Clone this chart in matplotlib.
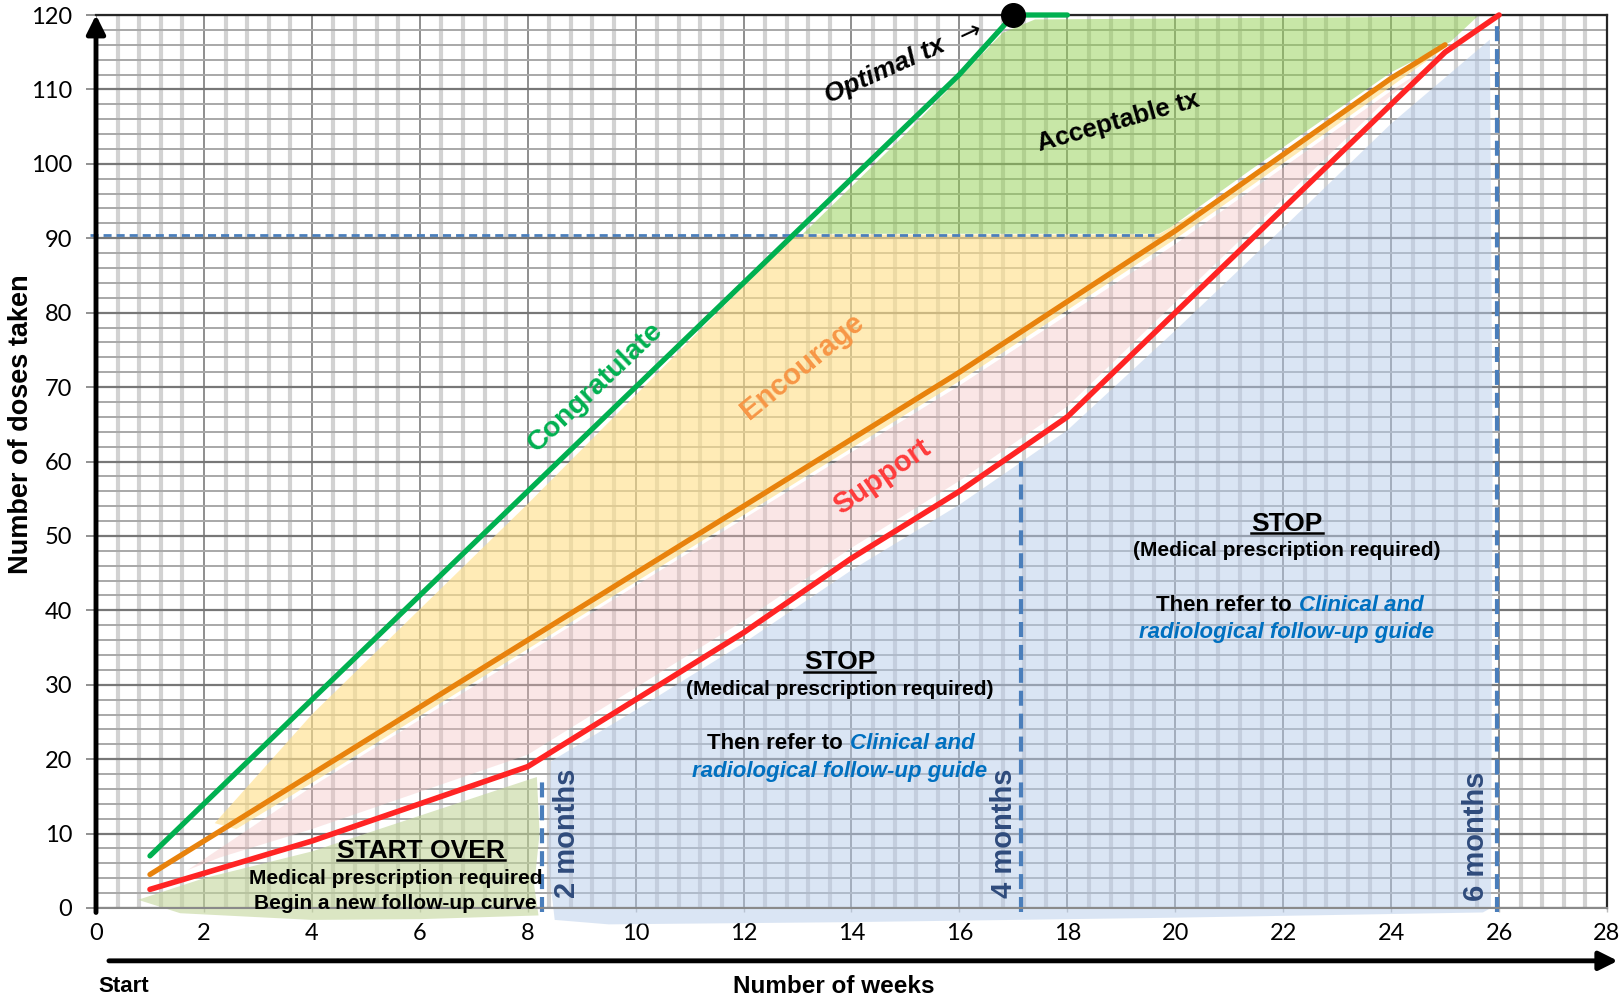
import numpy as np
import matplotlib
matplotlib.use('Agg')
import matplotlib.pyplot as plt
from matplotlib import font_manager
from matplotlib.ticker import MultipleLocator

# --- data ---
weeks_optimal = [1, 2, 4, 6, 8, 10, 12, 14, 16, 17, 18]
doses_optimal = [7, 14, 28, 42, 56, 70, 84, 98, 112, 120, 120]

weeks_encourage = [1, 4, 8, 12, 16, 20, 24, 25]
doses_encourage = [4.5, 18, 36, 54, 72, 91, 111.5, 116]

weeks_support = [1, 4, 8, 12, 14, 16, 18, 20, 22, 24, 25, 26]
doses_support = [2.5, 9, 19, 37, 47, 56, 66, 80, 94, 108, 115, 120]

optimal_point = (17, 120)
threshold_dose = 90.5          # horizontal dashed line
threshold_end_week = 19.6
month_weeks = [8.26, 17.15, 25.97]
month_tops = [17.6, 61, 120]
month_labels = ['2 months', '4 months', '6 months']
month_label_pos = [(8.72, 10.1), (16.83, 10.1), (25.58, 9.7)]

# shaded zones (hand drawn blobs), as (week, dose) outlines
zone_acceptable = [(13.1, 90.6), (15, 104), (16.8, 117.6), (17.4, 119.4), (25.6, 119.8),
                   (25.1, 116.4), (24, 112.3), (21.4, 99.2), (19.9, 91.4), (19.7, 90.6)]
zone_encourage = [(2.2, 11.4), (4, 26.0), (8, 54.3), (12.95, 90.5), (19.7, 90.5), (21.4, 98.1),
                  (24, 111.3), (25, 115.6), (24, 110.4), (21.4, 97.0), (20, 89.9), (16, 70.8),
                  (12, 52.8), (8, 34.8), (4, 16.8), (2.6, 10.6)]
zone_support = [(1.7, 5.1), (4, 16.3), (8, 34.3), (12, 52.3), (16, 70.2), (20, 89.2),
                (24, 109.8), (25, 114.6), (24, 109.2), (22, 95.3), (20, 81.4), (18, 67.4),
                (16, 57.4), (14, 48.4), (12, 38.6), (8, 20.6), (4, 10.6), (2.3, 6.8)]
zone_startover = [(0.78, 1.1), (2, 4.0), (4, 7.6), (6, 12.4), (8, 17.2), (8.17, 17.6),
                  (8.22, 10), (8.12, 3), (8.2, -1.0), (6, -1.5), (4, -1.6), (1.56, -0.7)]
zone_stop = [(8.43, 19.7), (10, 26.6), (12, 35.6), (14, 45.4), (16, 54.2), (18, 64.2),
             (20, 77.6), (22, 91.4), (24, 105.4), (25.83, 116.7), (25.88, 60),
             (25.85, 0), (25.7, -0.6), (20, -1.3), (14, -1.9), (9.5, -2.2), (8.5, -1.6),
             (8.38, 6)]

x_ticks = list(range(0, 29, 2))
y_ticks = list(range(0, 121, 10))

# --- fonts ---
installed = {f.name for f in font_manager.fontManager.ttflist}
plt.rcParams['font.family'] = ['Lato', 'DejaVu Sans']
ARIAL = ['Liberation Sans', 'DejaVu Sans']
if 'Liberation Sans Narrow' in installed:
    ylab_family, ylab_size = ['Liberation Sans Narrow', 'DejaVu Sans'], 23
else:
    ylab_family, ylab_size = ARIAL, 19.5

fig = plt.figure(figsize=(16.23, 9.99), dpi=100)
ax = fig.add_axes([96 / 1623, 1 - 908 / 999, 1511 / 1623, 893 / 999])
ax.set_xlim(0, 28)
ax.set_ylim(0, 120)

# grid
ax.set_axisbelow(True)
ax.set_xticks(x_ticks)
ax.set_yticks(y_ticks)
ax.xaxis.set_minor_locator(MultipleLocator(0.4))
ax.yaxis.set_minor_locator(MultipleLocator(2))
ax.grid(which='minor', axis='x', color='#D2D2D2', lw=3.0)
ax.grid(which='minor', axis='y', color='#A8A8A8', lw=1.4)
ax.grid(which='major', axis='x', color='#7C7C7C', lw=1.2)
ax.grid(which='major', axis='y', color='#777777', lw=1.6)
ax.tick_params(which='minor', length=0)
ax.tick_params(axis='y', which='major', length=7, width=1.2, color='#7F7F7F',
               labelsize=17, pad=10)
ax.tick_params(axis='x', which='major', length=3, width=1.0, color='#BBBBBB',
               labelsize=17, pad=8)

for s in ['top', 'right']:
    ax.spines[s].set_color('#262626')
    ax.spines[s].set_linewidth(1.6)
ax.spines['bottom'].set_color('#8A8A8A')
ax.spines['bottom'].set_linewidth(1.5)
ax.spines['left'].set_visible(False)

# zones
zones = [(zone_stop, '#B7CCEA', 0.5), (zone_startover, '#C3D69B', 0.6),
         (zone_support, '#F2BFBF', 0.38), (zone_encourage, '#FFE08A', 0.62),
         (zone_acceptable, '#92D050', 0.5)]
for pts, col, a in zones:
    ax.fill([p[0] for p in pts], [p[1] for p in pts], color=col, alpha=a, lw=0,
            zorder=1, clip_on=False)

# dashed reference lines
dash_col = '#4A7EBB'
ax.plot([-0.12, threshold_end_week], [threshold_dose, threshold_dose], color=dash_col,
        lw=2.0, linestyle=(0, (2.9, 1.8)), clip_on=False, zorder=2)
for wk, top in zip(month_weeks, month_tops):
    ax.plot([wk, wk], [-0.5, top], color=dash_col, lw=3.0, linestyle=(0, (3.6, 1.9)),
            clip_on=False, zorder=2)

# curves
ax.plot(weeks_optimal, doses_optimal, color='#00B050', lw=3.8, solid_capstyle='round',
        clip_on=False, zorder=4)
ax.plot(weeks_encourage, doses_encourage, color='#E8820C', lw=3.8, solid_capstyle='round',
        zorder=4)
ax.plot(weeks_support, doses_support, color='#FF2424', lw=4.0, solid_capstyle='round',
        clip_on=False, zorder=4)
ax.plot(*optimal_point, 'o', color='black', ms=17, clip_on=False, zorder=6)

# axis arrows
ax.annotate('', xy=(0, 120), xytext=(0, -0.6), annotation_clip=False,
            arrowprops=dict(arrowstyle='-|>', lw=3.5, color='black', mutation_scale=28,
                            shrinkA=0, shrinkB=0), zorder=7)
ax.annotate('', xy=(28.2, -7.1), xytext=(0.24, -7.1), annotation_clip=False,
            arrowprops=dict(arrowstyle='-|>', lw=3.5, color='black', mutation_scale=28,
                            shrinkA=0, shrinkB=0))

# axis labels
ax.text(-1.39, 65, 'Number of doses taken', rotation=90, ha='center', va='center',
        fontsize=ylab_size, fontweight='bold', family=ylab_family, clip_on=False)
ax.text(13.68, -10.5, 'Number of weeks', ha='center', va='center', fontsize=17.5,
        fontweight='bold', family=ARIAL, clip_on=False)
ax.text(0.04, -10.5, 'Start', ha='left', va='center', fontsize=16, fontweight='bold',
        family=ARIAL, clip_on=False)

# zone labels
ax.text(9.25, 70, 'Congratulate', rotation=43.5, ha='center', va='center',
        rotation_mode='anchor', fontsize=20.5, fontweight='bold', color='#00B050',
        family=ARIAL, zorder=5)
ax.text(13.09, 72.8, 'Encourage', rotation=39.4, ha='center', va='center',
        rotation_mode='anchor', fontsize=21, fontweight='bold', color='#F79646',
        family=ARIAL, zorder=5)
ax.text(14.56, 58.0, 'Support', rotation=34.6, ha='center', va='center',
        rotation_mode='anchor', fontsize=21, fontweight='bold', color='#FF3B3B',
        family=ARIAL, zorder=5)
ax.text(14.62, 112.5, 'Optimal tx', rotation=24.3, ha='center', va='center',
        rotation_mode='anchor', fontsize=19, fontweight='bold', style='italic',
        family=ARIAL, zorder=5)
ax.text(16.2, 117.6, '\u2192', rotation=25, ha='center', va='center',
        rotation_mode='anchor', fontsize=19, family=['DejaVu Sans'], zorder=5)
ax.text(18.94, 105.6, 'Acceptable tx', rotation=15.7, ha='center', va='center',
        rotation_mode='anchor', fontsize=18.5, fontweight='bold', family=ARIAL, zorder=5)

for (wk, dose), lab in zip(month_label_pos, month_labels):
    ax.text(wk, dose, lab, rotation=90, ha='center', va='center', fontsize=21,
            fontweight='bold', color='#2F4B7C', family=ARIAL, zorder=5)

# instruction blocks
underlined = []
underlined.append(ax.text(6.03, 7.66, 'START OVER', ha='center', va='center', fontsize=19,
                          fontweight='bold', family=ARIAL, zorder=5))
ax.text(5.55, 3.9, 'Medical prescription required', ha='center', va='center',
        fontsize=15, fontweight='bold', family=ARIAL, zorder=5)
ax.text(5.55, 0.56, 'Begin a new follow-up curve', ha='center', va='center',
        fontsize=15, fontweight='bold', family=ARIAL, zorder=5)

stop_blocks = [(13.78, 33.0, 13.91), (22.07, 51.6, 22.22)]
for cx, cy, split in stop_blocks:
    underlined.append(ax.text(cx, cy, 'STOP', ha='center', va='center', fontsize=19,
                              fontweight='bold', family=ARIAL, zorder=5))
    ax.text(cx, cy - 3.6, '(Medical prescription required)', ha='center', va='center',
            fontsize=15, fontweight='bold', family=ARIAL, zorder=5)
    ax.text(split - 0.07, cy - 10.9, 'Then refer to', ha='right', va='center',
            fontsize=16, fontweight='bold', family=ARIAL, zorder=5)
    ax.text(split + 0.07, cy - 10.9, 'Clinical and', ha='left', va='center',
            fontsize=16, fontweight='bold', style='italic', color='#0070C0',
            family=ARIAL, zorder=5)
    ax.text(cx, cy - 14.6, 'radiological follow-up guide', ha='center', va='center',
            fontsize=16, fontweight='bold', style='italic', color='#0070C0',
            family=ARIAL, zorder=5)

fig.canvas.draw()
inv = ax.transData.inverted()
for t in underlined:
    bb = t.get_window_extent().transformed(inv)
    yline = bb.y0 + 0.35
    ax.plot([bb.x0, bb.x1], [yline, yline], color='black', lw=1.8, zorder=5)

fig.savefig('out.png', dpi=100)
